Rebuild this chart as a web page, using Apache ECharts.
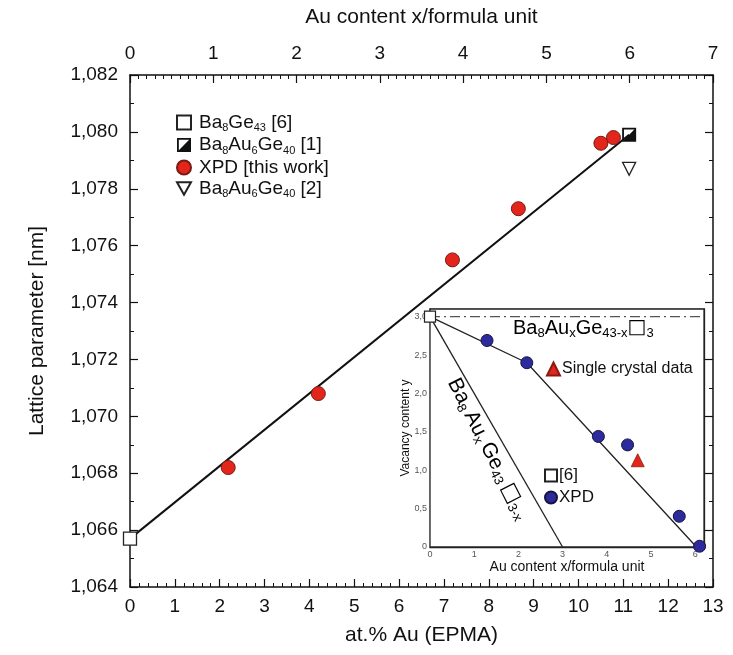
<!DOCTYPE html>
<html>
<head>
    <meta charset="utf-8">
    <title>Lattice parameter vs Au content</title>
    <script src="https://cdn.jsdelivr.net/npm/echarts@6/dist/echarts.min.js"></script>
    <style>
        body { margin: 0; background: #fff; }
        #chart { width: 733px; height: 655px; }
    </style>
</head>
<body>
    <div id="chart"></div>
    <script>
        // main plot: at.% Au (EPMA) vs lattice parameter
        const xpdAtPct = [2.19, 4.2, 7.19, 8.66, 10.5, 10.78];
        const xpdLattice = [1.0682, 1.0708, 1.0755, 1.0773, 1.0796, 1.0798];
        const ba8ge43 = [[0, 1.0657]];
        const ba8au6ge40Ref1 = [[11.13, 1.0799]];
        const ba8au6ge40Ref2 = [[11.13, 1.0787]];
        const fitLine = [[0, 1.0657], [11.13, 1.0799]];

        // inset: Au content x vs vacancy content y
        const insetXpdX = [1.29, 2.19, 3.81, 4.47, 5.64, 6.1];
        const insetXpdY = [2.69, 2.40, 1.44, 1.33, 0.40, 0.01];
        const insetRef6 = [[0, 3.0]];
        const insetSingleCrystal = [[4.70, 1.13]];
        const insetLineA = [[0, 3], [2.19, 2.40], [6.03, 0]];
        const insetLineB = [[0, 3], [3, 0]];
        const insetFullVacancy = [[0, 3], [6.2, 3]];

        const FONT = 'Liberation Sans, Arial, sans-serif';
        const halfSquare = 'path://M0,0L10,0L10,10L0,10Z M1.3,1.3L1.3,8.7L8.7,8.7L8.7,1.3Z M8.7,1.3L8.7,8.7L1.3,8.7Z';
        const downTriangle = 'path://M0,0L10,0L5,9Z';

        const legendNames = {
            'Ba8Ge43 [6]': '{n|Ba}{s|8}{n|Ge}{s|43}{n| [6]}',
            'Ba8Au6Ge40 [1]': '{n|Ba}{s|8}{n|Au}{s|6}{n|Ge}{s|40}{n| [1]}',
            'XPD [this work]': '{n|XPD [this work]}',
            'Ba8Au6Ge40 [2]': '{n|Ba}{s|8}{n|Au}{s|6}{n|Ge}{s|40}{n| [2]}'
        };

        const subRich = (size, sub) => ({
            n: { fontSize: size, fontFamily: FONT, color: '#111', lineHeight: size + 3 },
            s: { fontSize: sub, fontFamily: FONT, color: '#111', verticalAlign: 'bottom', lineHeight: sub + 1 },
            b: { fontSize: size, fontFamily: 'DejaVu Sans', color: '#111', lineHeight: size + 3 }
        });

        const frameAxis = (extra) => Object.assign({
            type: 'value',
            axisLine: { show: true, onZero: false, lineStyle: { color: '#111', width: 1.5 } },
            axisTick: { show: true, inside: true, length: 8, lineStyle: { color: '#111', width: 1.2 } },
            minorTick: { show: true, length: 4, lineStyle: { color: '#111', width: 1 } },
            splitLine: { show: false },
            axisLabel: { color: '#111', fontSize: 19, fontFamily: FONT }
        }, extra);

        const insetAxis = (extra) => Object.assign({
            type: 'value',
            gridIndex: 1,
            axisLine: { show: true, onZero: false, lineStyle: { color: '#222', width: 1.3 } },
            axisTick: { show: true, inside: true, length: 5, lineStyle: { color: '#222' } },
            minorTick: { show: true, splitNumber: 5, length: 3, lineStyle: { color: '#222' } },
            splitLine: { show: false },
            nameTextStyle: { color: '#111', fontSize: 13, fontFamily: FONT }
        }, extra);

        const chart = echarts.init(document.getElementById('chart'));
        const option = {
            backgroundColor: '#fff',
            animation: false,
            grid: [
                { left: 130, top: 75, right: 20, bottom: 68 },
                { left: 430, top: 309, width: 274, height: 238, show: true, backgroundColor: '#fff', borderColor: '#222', borderWidth: 1.3, z: 3 }
            ],
            xAxis: [
                frameAxis({
                    min: 0, max: 13, interval: 1, position: 'bottom',
                    name: 'at.% Au (EPMA)', nameLocation: 'middle', nameGap: 38,
                    nameTextStyle: { fontSize: 21, fontFamily: FONT, color: '#111' },
                    minorTick: { show: true, splitNumber: 5, length: 4, lineStyle: { color: '#111' } },
                    axisLabel: { color: '#111', fontSize: 19, fontFamily: FONT, margin: 10 }
                }),
                frameAxis({
                    min: 0, max: 7, interval: 1, position: 'top',
                    name: 'Au content x/formula unit', nameLocation: 'middle', nameGap: 47,
                    nameTextStyle: { fontSize: 21, fontFamily: FONT, color: '#111' },
                    minorTick: { show: true, splitNumber: 10, length: 4, lineStyle: { color: '#111' } },
                    axisLabel: { color: '#111', fontSize: 19, fontFamily: FONT, margin: 12 }
                }),
                insetAxis({
                    min: 0, max: 6.2, interval: 1, position: 'bottom',
                    name: 'Au content x/formula unit', nameLocation: 'middle', nameGap: 13,
                    nameTextStyle: { color: '#111', fontSize: 14, fontFamily: FONT },
                    axisLabel: { fontSize: 9, color: '#555', margin: 3, fontFamily: FONT,
                        formatter: v => Number.isInteger(v) ? String(v) : '' }
                }),
                insetAxis({
                    min: 0, max: 6.2, interval: 1, position: 'top',
                    axisLabel: { show: false }
                })
            ],
            yAxis: [
                frameAxis({
                    min: 1.064, max: 1.082, interval: 0.002,
                    name: 'Lattice parameter [nm]', nameLocation: 'middle', nameGap: 82,
                    nameTextStyle: { fontSize: 21, fontFamily: FONT, color: '#111' },
                    minorTick: { show: true, splitNumber: 2, length: 4, lineStyle: { color: '#111' } },
                    axisLabel: { color: '#111', fontSize: 19, fontFamily: FONT, margin: 12,
                        formatter: v => v.toFixed(3).replace('.', ',') }
                }),
                frameAxis({
                    min: 1.064, max: 1.082, interval: 0.002, position: 'right',
                    minorTick: { show: true, splitNumber: 2, length: 4, lineStyle: { color: '#111' } },
                    axisLabel: { show: false }
                }),
                insetAxis({
                    min: 0, max: 3.1, interval: 0.5, position: 'left',
                    axisLabel: { fontSize: 9, color: '#555', margin: 3, fontFamily: FONT,
                        formatter: v => v === 0 ? '0' : (Math.abs(v * 2 - Math.round(v * 2)) < 1e-6 ? v.toFixed(1).replace('.', ',') : '') }
                }),
                insetAxis({
                    min: 0, max: 3.1, interval: 0.5, position: 'right',
                    axisTick: { show: false }, minorTick: { show: false }, axisLabel: { show: false }
                })
            ],
            legend: [
                {
                    orient: 'vertical', left: 171, top: 108, itemWidth: 14, itemHeight: 14, itemGap: 2,
                    data: ['Ba8Ge43 [6]', 'Ba8Au6Ge40 [1]', 'XPD [this work]', 'Ba8Au6Ge40 [2]'],
                    formatter: name => legendNames[name],
                    textStyle: { padding: [0, 0, 0, 3], rich: subRich(19, 11) }
                },
                {
                    orient: 'vertical', left: 541, top: 356, itemWidth: 13, itemHeight: 13, itemGap: 0,
                    data: ['Single crystal data'],
                    textStyle: { fontSize: 16, fontFamily: FONT, color: '#111', padding: [0, 0, 0, -3] }
                },
                {
                    orient: 'vertical', left: 539, top: 462, itemWidth: 12, itemHeight: 12, itemGap: 5,
                    data: ['[6]', 'XPD'],
                    textStyle: { fontSize: 17, fontFamily: FONT, color: '#111', padding: [0, 0, 0, -3] }
                }
            ],
            graphic: [
                {
                    type: 'text', left: 513, top: 318, z: 10,
                    style: {
                        text: '{n|Ba}{s|8}{n|Au}{s|x}{n|Ge}{s|43-x}{b|□}{s|3}',
                        rich: subRich(20, 13)
                    }
                },
                {
                    type: 'text', x: 488, y: 449, rotation: -63 * Math.PI / 180, z: 10,
                    style: {
                        text: '{n|Ba}{s|8} {n|Au}{s|x} {n|Ge}{s|43} {b|□}{s|3-x}',
                        align: 'center', verticalAlign: 'middle',
                        rich: subRich(21, 13)
                    }
                },
                {
                    type: 'text', x: 406, y: 428, rotation: Math.PI / 2, z: 10,
                    style: {
                        text: 'Vacancy content y', align: 'center', verticalAlign: 'middle',
                        fontSize: 12, fontFamily: FONT, fill: '#111'
                    }
                }
            ],
            series: [
                {
                    type: 'line', name: 'fit', xAxisIndex: 0, yAxisIndex: 0, data: fitLine,
                    showSymbol: false, silent: true, z: 2,
                    lineStyle: { color: '#111', width: 2 }
                },
                {
                    type: 'scatter', name: 'XPD [this work]', xAxisIndex: 0, yAxisIndex: 0,
                    data: xpdAtPct.map((x, i) => [x, xpdLattice[i]]),
                    symbol: 'circle', symbolSize: 14, z: 4,
                    itemStyle: { color: '#e3261b', borderColor: '#7a1a12', borderWidth: 1, opacity: 1 }
                },
                {
                    type: 'scatter', name: 'Ba8Ge43 [6]', xAxisIndex: 0, yAxisIndex: 0, data: ba8ge43,
                    symbol: 'rect', symbolSize: 13, z: 4,
                    itemStyle: { color: '#fff', borderColor: '#222', borderWidth: 1.3, opacity: 1 }
                },
                {
                    type: 'scatter', name: 'Ba8Au6Ge40 [1]', xAxisIndex: 0, yAxisIndex: 0, data: ba8au6ge40Ref1,
                    symbol: halfSquare, symbolSize: 14, z: 4,
                    itemStyle: { color: '#111', opacity: 1 }
                },
                {
                    type: 'scatter', name: 'Ba8Au6Ge40 [2]', xAxisIndex: 0, yAxisIndex: 0, data: ba8au6ge40Ref2,
                    symbol: downTriangle, symbolSize: 13, z: 4,
                    itemStyle: { color: '#fff', borderColor: '#222', borderWidth: 1.3, opacity: 1 }
                },
                // inset
                {
                    type: 'line', name: 'fullVacancy', xAxisIndex: 2, yAxisIndex: 2, data: insetFullVacancy,
                    showSymbol: false, silent: true, z: 5,
                    lineStyle: { color: '#555', width: 1.3, type: [10, 4, 2, 4] }
                },
                {
                    type: 'line', name: 'lineA', xAxisIndex: 2, yAxisIndex: 2, data: insetLineA,
                    showSymbol: false, silent: true, z: 5,
                    lineStyle: { color: '#222', width: 1.3 }
                },
                {
                    type: 'line', name: 'lineB', xAxisIndex: 2, yAxisIndex: 2, data: insetLineB,
                    showSymbol: false, silent: true, z: 5,
                    lineStyle: { color: '#222', width: 1.3 }
                },
                {
                    type: 'scatter', name: 'XPD', xAxisIndex: 2, yAxisIndex: 2,
                    data: insetXpdX.map((x, i) => [x, insetXpdY[i]]),
                    symbol: 'circle', symbolSize: 12, z: 6,
                    itemStyle: { color: '#2c2a9c', borderColor: '#151540', borderWidth: 1, opacity: 1 }
                },
                {
                    type: 'scatter', name: '[6]', xAxisIndex: 2, yAxisIndex: 2, data: insetRef6,
                    symbol: 'rect', symbolSize: 11, z: 6,
                    itemStyle: { color: '#fff', borderColor: '#222', borderWidth: 1.2, opacity: 1 }
                },
                {
                    type: 'scatter', name: 'Single crystal data', xAxisIndex: 2, yAxisIndex: 2, data: insetSingleCrystal,
                    symbol: 'triangle', symbolSize: 13, z: 6,
                    itemStyle: { color: '#e3261b', borderColor: '#8a1a12', borderWidth: 0.8, opacity: 1 }
                }
            ]
        };
        chart.setOption(option);
    </script>
</body>
</html>
